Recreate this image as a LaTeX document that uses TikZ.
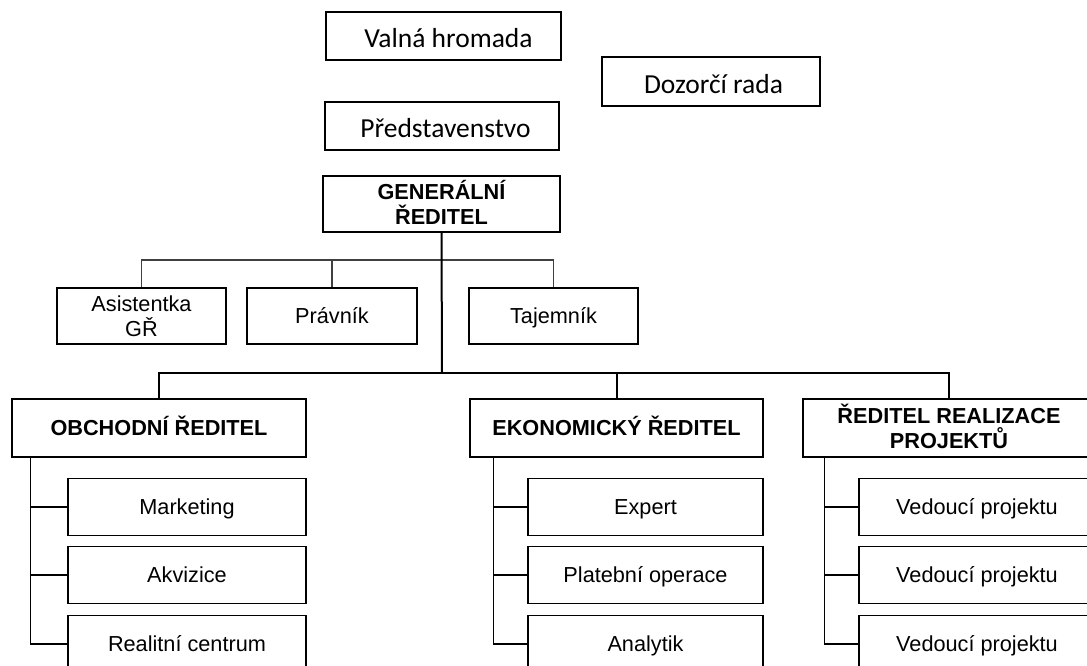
\documentclass[tikz,border=0pt]{standalone}
\usepackage{fontspec}
\setmainfont{Liberation Sans}
\newfontfamily\calibri{Carlito}
\tikzset{
  box/.style={draw, line width=1.2pt, minimum height=57pt, inner sep=0pt, align=center,
    text height=17pt, text depth=1.5pt, font=\fontsize{21.7}{25}\selectfont},
  twoline/.style={text height=42pt},
  topbox/.style={box, minimum height=48pt, text height=23pt, text depth=0pt,
    font=\calibri\fontsize{27.5}{30}\selectfont},
  headbox/.style={box, minimum height=58pt, font=\bfseries\fontsize{21.7}{25}\selectfont},
  link/.style={line width=1.4pt},
  thinlink/.style={line width=1.2pt, draw=black!75},
  mainlink/.style={line width=2pt},
}
\begin{document}
\begin{tikzpicture}[x=1pt, y=-1pt]
    \useasboundingbox (0,0) rectangle (1087,665);
    \clip (0,0) rectangle (1087,665);
    % organs of the company
    \node[topbox, minimum width=235pt] (valna) at (443.5,36) {\hspace*{10pt}Valná hromada};
    \node[topbox, minimum width=218pt, minimum height=49pt] (dozorci) at (711,81.5) {\hspace*{5pt}Dozorčí rada};
    \node[topbox, minimum width=234pt] (predst) at (442,126) {\hspace*{7pt}Představenstvo};
    \node[headbox, twoline, minimum width=237pt, minimum height=56pt, line width=2pt] (gr) at (441.5,204) {GENERÁLNÍ\\ŘEDITEL};
    % staff of GR
    \node[box, twoline, minimum width=169pt, minimum height=56pt] (asist) at (141.5,316) {Asistentka\\GŘ};
    \node[box, minimum width=170pt, minimum height=56pt] (pravnik) at (332,316) {Právník};
    \node[box, minimum width=169pt, minimum height=56pt] (tajem) at (553.5,316) {Tajemník};
    \coordinate (j1) at (442,260);
    \draw[thinlink] (asist.north) |- (j1) -| (tajem.north);
    \draw[thinlink] (pravnik.north) -- (pravnik.north |- j1);
    % directors
    \node[headbox, minimum width=294pt] (obch) at (159,428) {OBCHODNÍ ŘEDITEL};
    \node[headbox, minimum width=293pt] (ekon) at (616.5,428) {EKONOMICKÝ ŘEDITEL};
    \node[headbox, twoline, minimum width=292pt] (realiz) at (949,428) {ŘEDITEL REALIZACE\\PROJEKTŮ};
    \coordinate (j2) at (442,373);
    \draw[mainlink] (gr.south) -- (j2);
    \draw[mainlink] (obch.north) |- (j2) -| (realiz.north);
    \draw[mainlink] (ekon.north) -- (ekon.north |- j2);
    % obchodni
    \node[box, minimum width=238pt] (mark) at (187,507) {Marketing};
    \node[box, minimum width=238pt] (akv) at (187,575) {Akvizice};
    \node[box, minimum width=238pt] (rc) at (187,644) {Realitní centrum};
    \coordinate (os) at ([xshift=19pt]obch.south west);
    \draw[link] (os) |- (rc.west);
    \draw[link] (mark.west) -- (mark.west -| os);
    \draw[link] (akv.west) -- (akv.west -| os);
    % ekonomicky
    \node[box, minimum width=235pt] (expert) at (645.5,507) {Expert};
    \node[box, minimum width=235pt] (plat) at (645.5,575) {Platební operace};
    \node[box, minimum width=235pt] (anal) at (645.5,644) {Analytik};
    \coordinate (es) at ([xshift=24pt]ekon.south west);
    \draw[link] (es) |- (anal.west);
    \draw[link] (expert.west) -- (expert.west -| es);
    \draw[link] (plat.west) -- (plat.west -| es);
    % realizace projektu
    \node[box, minimum width=236pt] (ved1) at (977,507) {Vedoucí projektu};
    \node[box, minimum width=236pt] (ved2) at (977,575) {Vedoucí projektu};
    \node[box, minimum width=236pt] (ved3) at (977,644) {Vedoucí projektu};
    \coordinate (rs) at ([xshift=22pt]realiz.south west);
    \draw[link] (rs) |- (ved3.west);
    \draw[link] (ved1.west) -- (ved1.west -| rs);
    \draw[link] (ved2.west) -- (ved2.west -| rs);
\end{tikzpicture}
\end{document}
